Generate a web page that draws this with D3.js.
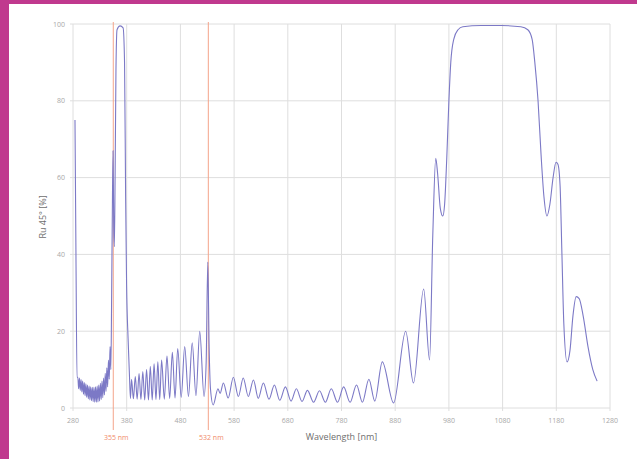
<!DOCTYPE html>
<html>
    <head>
        <meta charset="utf-8" />
        <title>Reflectance 45deg</title>
        <style type="text/css">
            body {
                margin: 0;
                background-color: #fff;
            }
            .grid line {
                stroke: #dedede;
                stroke-width: 1px;
            }
            .ticklabel {
                fill: #a8a8a8;
                font-family: "Open Sans", sans-serif;
                font-size: 7px;
            }
            .axistitle {
                fill: #6e6e6e;
                font-family: "Open Sans", sans-serif;
                font-size: 9px;
            }
            .laserlabel {
                fill: #f08a6a;
                font-family: "Open Sans", sans-serif;
                font-size: 7px;
            }
        </style>
        <script src="https://d3js.org/d3.v7.min.js"></script>
    </head>
    <body>
        <div id="chart"></div>
        <script type="text/javascript">
            // tick values
            var xTicks = [280, 380, 480, 580, 680, 780, 880, 980, 1080, 1180, 1280];
            var yTicks = [0, 20, 40, 60, 80, 100];

            // laser lines
            var laserLines = [355, 532];
            var laserLabels = ["355 nm", "532 nm"];

            // spectrum: wavelength [nm] and reflectance [%]
            var wl = [
                283.7, 285.5, 287.5,
                289, 290.5, 292, 293.5, 295, 296.5, 298, 299.5, 301, 302.5, 304, 305.5, 307, 308.5,
                310, 311.5, 313, 314.5, 316, 317.5, 319, 320.5, 322, 323.5, 325, 326.5, 328, 329.5,
                331, 332.5, 334, 335.5, 337, 338.5, 340, 341.5, 343, 344.5, 346, 347.5, 349,
                350.5, 352, 353.5, 354.6, 355.8, 357, 358.4, 360, 362, 367.7, 373.3, 376, 378, 379.8,
                382.6, 385, 387,
                389, 392.5, 396, 399.5, 403, 406.5, 410, 413.5, 417, 420.5, 424, 427.5, 431, 434.5,
                438, 441.5, 445, 450, 455, 460, 465, 470, 475, 481.5, 488, 495, 502, 509, 516, 524,
                528, 531, 533.5, 536, 541,
                550, 554, 560, 569, 578.6, 588, 597, 606.5, 616, 625, 634.5, 645, 655, 665, 675.6,
                686, 696, 706.5, 716.6, 728, 739, 750, 761, 772.6, 784, 796, 808, 819, 831, 842, 856,
                877, 899.5, 914, 933, 944, 950, 955.5, 959, 964, 968.6, 972, 976, 980, 983.5, 989,
                997, 1006, 1040, 1077, 1114, 1127, 1135, 1140, 1146, 1151.6, 1157, 1162.6, 1168,
                1174, 1179.5, 1183, 1187, 1190.5, 1194, 1200, 1205.5, 1211, 1217, 1222.6, 1230,
                1239, 1248, 1256
            ];
            var rs = [
                75, 40, 8,
                8, 5, 7.8, 4.6, 7.4, 4.2, 7, 3.6, 6.6, 3.2, 6.3, 2.8, 6, 2.4,
                5.7, 2.1, 5.5, 1.9, 5.4, 1.7, 5.4, 1.5, 5.5, 1.5, 5.7, 1.6, 6, 1.8,
                6.4, 2.2, 7, 2.7, 7.8, 3.4, 9, 4.3, 10.5, 5.5, 12.5, 7.5, 16,
                10, 30, 55, 67, 48, 42, 60, 88, 98.5, 99.5, 99, 90, 55, 32,
                18, 9, 2.5,
                7.5, 2.4, 8.2, 2.3, 9, 2.2, 9.5, 2.1, 10, 2.1, 10.8, 2.1, 11.5, 2.2,
                12, 2.2, 12.5, 2.3, 13.5, 2.5, 14.5, 2.6, 15.5, 2.8, 16, 3, 17, 3.2, 20, 3,
                12, 38, 16, 5, 0.8,
                5, 3.8, 6.5, 2.6, 8, 3, 7.8, 3, 7.3, 2.5, 6.5, 2.3, 6, 2, 5.5,
                1.8, 5, 1.7, 4.6, 1.5, 4.5, 1.5, 5, 1.5, 5.5, 1.5, 6, 1.5, 7.5, 1.8, 12,
                1.3, 20, 6.5, 31, 12.5, 45, 65, 61, 52, 50, 53, 65, 80, 90, 96,
                98.5, 99.3, 99.6, 99.6, 99.3, 98.5, 96, 90, 80, 66, 55, 50, 53,
                60, 64, 63.5, 58, 40, 22, 12, 15, 24, 29, 28.5, 24,
                16, 10, 7
            ];

            var width = 637,
                height = 459,
                plotLeft = 73,
                plotRight = 610,
                plotTop = 24,
                plotBottom = 408;

            var svg = d3
                .select("#chart")
                .append("svg")
                .attr("width", width)
                .attr("height", height);

            // magenta frame
            svg.append("rect")
                .attr("x", 0)
                .attr("y", 0)
                .attr("width", width)
                .attr("height", 4)
                .attr("fill", "#c0398e");
            svg.append("rect")
                .attr("x", 0)
                .attr("y", 0)
                .attr("width", 9)
                .attr("height", height)
                .attr("fill", "#c0398e");

            var xScale = d3.scaleLinear().domain([280, 1280]).range([plotLeft, plotRight]);
            var yScale = d3.scaleLinear().domain([0, 100]).range([plotBottom, plotTop]);

            var grid = svg.append("g").attr("class", "grid");

            grid.selectAll(".vline")
                .data(xTicks)
                .enter()
                .append("line")
                .attr("x1", function (d) { return xScale(d); })
                .attr("x2", function (d) { return xScale(d); })
                .attr("y1", plotTop)
                .attr("y2", plotBottom + 3);

            grid.selectAll(".hline")
                .data(yTicks)
                .enter()
                .append("line")
                .attr("x1", plotLeft - 3)
                .attr("x2", plotRight)
                .attr("y1", function (d) { return yScale(d); })
                .attr("y2", function (d) { return yScale(d); });

            svg.selectAll(".xlabel")
                .data(xTicks)
                .enter()
                .append("text")
                .attr("class", "ticklabel")
                .attr("x", function (d) { return xScale(d); })
                .attr("y", plotBottom + 15)
                .attr("text-anchor", "middle")
                .text(function (d) { return d; });

            svg.selectAll(".ylabel")
                .data(yTicks)
                .enter()
                .append("text")
                .attr("class", "ticklabel")
                .attr("x", plotLeft - 8)
                .attr("y", function (d) { return yScale(d) + 2.5; })
                .attr("text-anchor", "end")
                .text(function (d) { return d; });

            // laser wavelength markers
            svg.selectAll(".laser")
                .data(laserLines)
                .enter()
                .append("line")
                .attr("x1", function (d) { return xScale(d); })
                .attr("x2", function (d) { return xScale(d); })
                .attr("y1", plotTop - 2)
                .attr("y2", plotBottom + 22)
                .attr("stroke", "#f4a48a")
                .attr("stroke-width", 1);

            svg.selectAll(".laserlabel")
                .data(laserLines)
                .enter()
                .append("text")
                .attr("class", "laserlabel")
                .attr("x", function (d) { return xScale(d) + 3; })
                .attr("y", plotBottom + 32)
                .attr("text-anchor", "middle")
                .text(function (d, i) { return laserLabels[i]; });

            var points = wl.map(function (d, i) {
                return [d, rs[i]];
            });

            var line = d3
                .line()
                .x(function (d) { return xScale(d[0]); })
                .y(function (d) { return yScale(d[1]); })
                .curve(d3.curveMonotoneX);

            svg.append("path")
                .datum(points)
                .attr("d", line)
                .attr("fill", "none")
                .attr("stroke", "#7c79c6")
                .attr("stroke-width", 1.1);

            svg.append("text")
                .attr("class", "axistitle")
                .attr("x", (plotLeft + plotRight) / 2)
                .attr("y", plotBottom + 32)
                .attr("text-anchor", "middle")
                .text("Wavelength [nm]");

            svg.append("text")
                .attr("class", "axistitle")
                .attr("transform", "translate(46,217) rotate(-90)")
                .attr("text-anchor", "middle")
                .text("Ru 45° [%]");
        </script>
    </body>
</html>
